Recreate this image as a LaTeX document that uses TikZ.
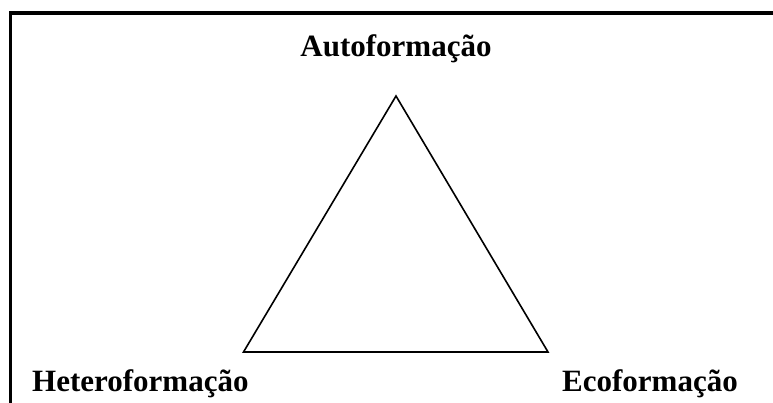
\documentclass[tikz,border=0pt]{standalone}
\usepackage{fontspec}
\setmainfont{Liberation Serif}
\usepackage{tikz}
\tikzset{
formname/.style={font=\fontsize{31}{36}\selectfont\bfseries, inner sep=0pt},
corner/.style={},
side/.style={draw, line width=1.6pt, line join=miter},
frameline/.style={draw, line width=3.5pt}
}

\begin{document}
\begin{tikzpicture}[x=1pt, y=-1pt]
			\useasboundingbox (0,0) rectangle (773,403);
			% ----
			\path[frameline] (10.5,403) -- (10.5,13) -- (773,13);
			% ----
			\coordinate[corner] (auto) at (396,96);
			\coordinate[corner] (hetero) at (243.5,352);
			\coordinate[corner] (eco) at (548,352);
			\path[side] (auto) -- (eco) -- (hetero) -- cycle;
			% ----
			\node[formname, anchor=base] (Auto) at (396,57) {Autoformação};
			\node[formname, anchor=base west] (Hetero) at (32,391) {Heteroformação};
			\node[formname, anchor=base west] (Eco) at (562,391) {Ecoformação};
		\end{tikzpicture}
\end{document}
